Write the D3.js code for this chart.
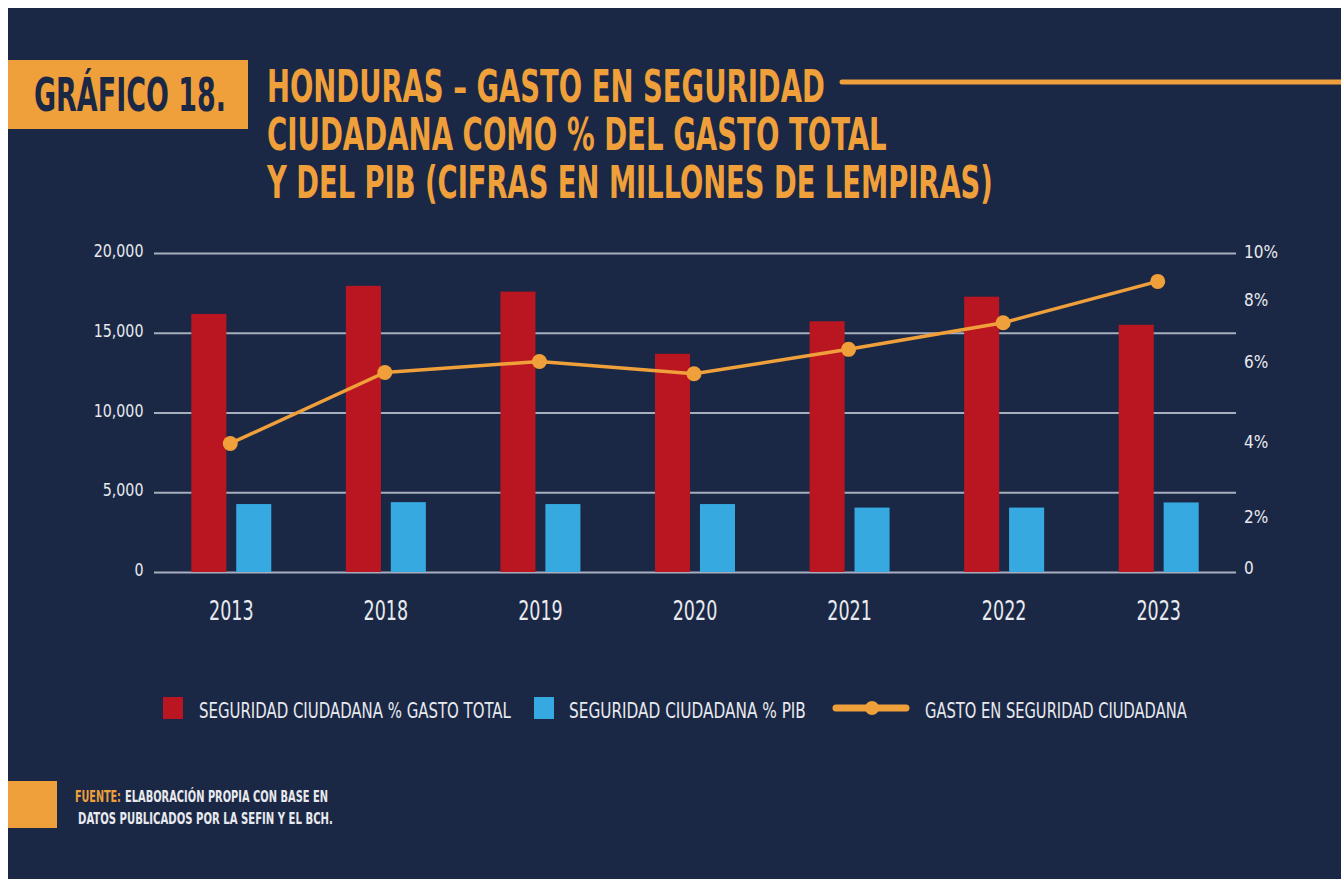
<!DOCTYPE html>
<html>
<head>
<meta charset="utf-8">
<script src="https://cdn.jsdelivr.net/npm/d3@7"></script>
<style>
  body { margin: 0; background: #ffffff; }
  svg text { font-family: "Liberation Sans Narrow", "DejaVu Sans Condensed", "Arial Narrow", sans-serif; }
</style>
</head>
<body>
<script>
// data
const years = ['2013', '2018', '2019', '2020', '2021', '2022', '2023'];
const pctGastoTotal = [8.09, 8.97, 8.79, 6.84, 7.86, 8.63, 7.75]; // red bars, %
const pctPib = [2.13, 2.19, 2.13, 2.13, 2.02, 2.02, 2.18]; // blue bars, %
const gastoSeguridad = [8060, 12510, 13200, 12430, 13960, 15630, 18220]; // line, millones L
const leftTicks = [0, 5000, 10000, 15000, 20000];
const rightTicks = [0, 2, 4, 6, 8, 10];
// where the original puts its right-hand labels (in % units, not evenly spaced)
const rightTickAt = [0.13, 1.72, 4.08, 6.58, 8.53, 10.03];

const titleLines = [
  'HONDURAS – GASTO EN SEGURIDAD',
  'CIUDADANA COMO % DEL GASTO TOTAL',
  'Y DEL PIB (CIFRAS EN MILLONES DE LEMPIRAS)'
];
const legendLabels = [
  'SEGURIDAD CIUDADANA % GASTO TOTAL',
  'SEGURIDAD CIUDADANA % PIB',
  'GASTO EN SEGURIDAD CIUDADANA'
];

const navy = '#1b2845';
const orange = '#f0a03a';
const red = '#b91622';
const blue = '#36a9e1';
const grid = '#a7aebd';
const light = '#e8eaef';

const W = 1341, H = 879;
const svg = d3.select('body').append('svg').attr('width', W).attr('height', H);

// no condensed webfont here, so squeeze texts horizontally with a transform
function squeeze(sel, k) {
  sel.each(function () {
    d3.select(this).attr('transform', `scale(${k},1)`);
  });
}
// place a text at (x, y) and stretch it to a given width
function fitText(parent, x, y, width, str) {
  const t = parent.append('text').attr('x', 0).attr('y', 0).text(str);
  return { t, place: () => {
    const k = width / t.node().getComputedTextLength();
    t.attr('transform', `translate(${x},${y}) scale(${k},1)`);
    return t;
  } };
}

svg.append('rect').attr('x', 8).attr('y', 8).attr('width', W - 8).attr('height', H - 8).attr('fill', navy);

// HEADER
svg.append('rect').attr('x', 8).attr('y', 60).attr('width', 240).attr('height', 69).attr('fill', orange);
let f = fitText(svg, 34, 111, 192, 'GRÁFICO 18.');
f.t.attr('font-size', 47).attr('font-weight', 'bold').attr('fill', navy);
f.place();

const titleWidths = [558, 620, 726];
titleLines.forEach((s, i) => {
  const ft = fitText(svg, 267, 102 + i * 48, titleWidths[i], s);
  ft.t.attr('font-size', 44).attr('font-weight', 'bold').attr('fill', orange);
  ft.place();
});
svg.append('line').attr('x1', 842).attr('x2', W + 5).attr('y1', 82).attr('y2', 82)
  .attr('stroke', orange).attr('stroke-width', 5).attr('stroke-linecap', 'round');

// SCALES
const plotL = 154, plotR = 1236, plotB = 572, plotT = 253;
const x = d3.scaleBand().domain(years).range([plotL, plotR]);
const groupW = 80;
const xSub = d3.scaleBand().domain(['total', 'pib']).range([0, groupW]).paddingInner(0.22);
const groupX = (yr) => x(yr) + (x.bandwidth() - groupW) / 2;
const yLeft = d3.scaleLinear().domain([0, 20000]).range([plotB, plotT]);
const yPct = d3.scaleLinear().domain([0, 10]).range([plotB, plotT]);
const yPctLabel = d3.scaleLinear().domain(rightTicks).range(rightTickAt.map(yPct));

// GRID + LEFT AXIS
const gLeft = svg.append('g').attr('transform', `translate(${plotL},0)`)
  .call(d3.axisLeft(yLeft).tickValues(leftTicks).tickFormat(d3.format(',')).tickSize(-(plotR - plotL)).tickPadding(12));
gLeft.select('.domain').remove();
gLeft.selectAll('line').attr('stroke', grid).attr('stroke-width', 2);
gLeft.selectAll('text').attr('fill', light).attr('font-size', 18).attr('font-family', null).attr('dy', '0.2em')
  .call(squeeze, 0.88);

// RIGHT AXIS (labels only)
const gRight = svg.append('g').attr('transform', `translate(1244,0)`)
  .call(d3.axisRight(yPctLabel).tickValues(rightTicks).tickFormat((d) => (d === 0 ? '0' : d + '%')).tickSize(0).tickPadding(0));
gRight.select('.domain').remove();
gRight.selectAll('text').attr('fill', light).attr('font-size', 17).attr('font-family', null);

// BARS
const groups = svg.selectAll('.grp').data(years).join('g')
  .attr('class', 'grp')
  .attr('transform', (d) => `translate(${groupX(d)},0)`);
groups.append('rect')
  .attr('x', xSub('total')).attr('width', xSub.bandwidth())
  .attr('y', (d, i) => yPct(pctGastoTotal[i]))
  .attr('height', (d, i) => yPct(0) - yPct(pctGastoTotal[i]))
  .attr('fill', red);
groups.append('rect')
  .attr('x', xSub('pib')).attr('width', xSub.bandwidth())
  .attr('y', (d, i) => yPct(pctPib[i]))
  .attr('height', (d, i) => yPct(0) - yPct(pctPib[i]))
  .attr('fill', blue);

// LINE
const cx = (yr) => x(yr) + x.bandwidth() / 2 - 1;
const line = d3.line().x((d, i) => cx(years[i])).y((d) => yLeft(d));
svg.append('path').datum(gastoSeguridad)
  .attr('d', line).attr('fill', 'none').attr('stroke', orange).attr('stroke-width', 3.5);
svg.selectAll('.dot').data(gastoSeguridad).join('circle')
  .attr('class', 'dot')
  .attr('cx', (d, i) => cx(years[i])).attr('cy', (d) => yLeft(d))
  .attr('r', 7.5).attr('fill', orange);

// X LABELS
svg.append('g').attr('transform', `translate(0,611)`)
  .call(d3.axisBottom(x).tickSize(0).tickPadding(0))
  .call((g) => g.select('.domain').remove())
  .selectAll('text').attr('fill', light).attr('font-size', 26).attr('font-family', null).attr('dy', '0.35em')
  .call(squeeze, 0.75);

// LEGEND
const lg = svg.append('g');
lg.append('rect').attr('x', 163).attr('y', 697).attr('width', 20).attr('height', 22).attr('fill', red);
lg.append('rect').attr('x', 534).attr('y', 697).attr('width', 20).attr('height', 22).attr('fill', blue);
lg.append('line').attr('x1', 836).attr('x2', 906).attr('y1', 708).attr('y2', 708)
  .attr('stroke', orange).attr('stroke-width', 7).attr('stroke-linecap', 'round');
lg.append('circle').attr('cx', 872).attr('cy', 708).attr('r', 7).attr('fill', orange);
const legendX = [199, 569, 925];
const legendWidths = [312, 237, 262];
legendLabels.forEach((s, i) => {
  const ft = fitText(lg, legendX[i], 718, legendWidths[i], s);
  ft.t.attr('font-size', 22).attr('fill', light);
  ft.place();
});

// SOURCE
svg.append('rect').attr('x', 8).attr('y', 781).attr('width', 49).attr('height', 47).attr('fill', orange);
f = fitText(svg, 75, 802, 46, 'FUENTE:');
f.t.attr('font-size', 16).attr('font-weight', 'bold').attr('fill', orange);
f.place();
f = fitText(svg, 125, 802, 203, 'ELABORACIÓN PROPIA CON BASE EN');
f.t.attr('font-size', 16).attr('font-weight', 'bold').attr('fill', light);
f.place();
f = fitText(svg, 78, 824, 255, 'DATOS PUBLICADOS POR LA SEFIN Y EL BCH.');
f.t.attr('font-size', 16).attr('font-weight', 'bold').attr('fill', light);
f.place();
</script>
</body>
</html>
